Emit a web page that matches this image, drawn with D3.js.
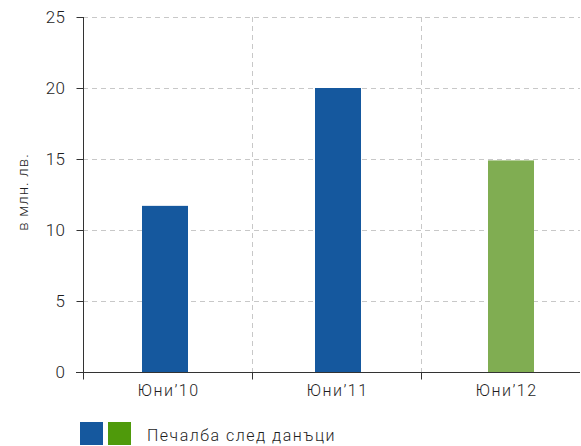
<!DOCTYPE html>
<html lang="bg">
<head>
<meta charset="utf-8">
<script src="https://cdn.jsdelivr.net/npm/d3@7"></script>
<style>
  html, body { margin: 0; padding: 0; background: #fff; }
  svg { display: block; font-family: Roboto, "Noto Sans", sans-serif; font-weight: 300; }
</style>
</head>
<body>
<svg id="chart" width="581" height="446" lang="bg"></svg>
<script>
// Net profit by period, in million BGN
const categories = ["Юни’10", "Юни’11", "Юни’12"];
const values = [11.7, 20, 14.9];
const barColors = ["#15589e", "#15589e", "#80ad52"];
const yTicks = [0, 5, 10, 15, 20, 25];
const legendColors = ["#15589e", "#4f9a0b"];
const legendLabel = "Печалба след данъци";
const yLabel = "в млн. лв.";

const svg = d3.select("#chart");
const plotLeft = 83, plotRight = 590, plotTop = 17, plotBottom = 372, axisEnd = 580;
const textColor = "#1e1e1e";

const x = d3.scaleBand().domain(categories).range([plotLeft, plotRight]).paddingInner(0).paddingOuter(0);
const xBar = d3.scalePoint().domain(categories).range([165, 511]);
const y = d3.scaleLinear().domain([0, 25]).range([plotBottom, plotTop]);

// horizontal dashed gridlines
svg.append("g").selectAll("line").data(yTicks.filter(d => d > 0)).join("line")
  .attr("x1", plotLeft).attr("x2", axisEnd)
  .attr("y1", d => y(d) + 0.5).attr("y2", d => y(d) + 0.5)
  .attr("stroke", "#c8c8c8").attr("stroke-width", 1).attr("stroke-dasharray", "5,4");

// vertical dashed gridlines at band boundaries
svg.append("g").selectAll("line").data(categories.slice(1)).join("line")
  .attr("x1", d => x(d) + 0.5).attr("x2", d => x(d) + 0.5)
  .attr("y1", plotTop).attr("y2", plotBottom)
  .attr("stroke", "#c8c8c8").attr("stroke-width", 1).attr("stroke-dasharray", "5,4");

// bars
const barW = 46;
svg.append("g").selectAll("rect").data(values).join("rect")
  .attr("x", (d, i) => xBar(categories[i]) - barW / 2)
  .attr("width", barW)
  .attr("y", d => y(d))
  .attr("height", d => plotBottom - y(d))
  .attr("fill", (d, i) => barColors[i]);

// y axis
const yAxis = svg.append("g").attr("transform", `translate(${plotLeft + 0.5},0)`)
  .call(d3.axisLeft(y).tickValues(yTicks).tickSize(7).tickPadding(11));
yAxis.select(".domain").attr("d", `M0,${plotTop}V${plotBottom}`).attr("stroke", "#333");
yAxis.selectAll(".tick line").attr("stroke", "#333");
yAxis.selectAll("text").attr("font-size", 17).attr("fill", textColor)
  .attr("font-family", "Roboto, sans-serif").attr("font-weight", 300).attr("letter-spacing", 0.5);

// x axis
const xAxis = svg.append("g").attr("transform", `translate(0,${plotBottom + 0.5})`);
xAxis.append("line").attr("x1", plotLeft - 7).attr("x2", axisEnd).attr("stroke", "#333");
const xBounds = categories.map(c => x(c));
xAxis.selectAll(".xt").data(xBounds).join("line")
  .attr("x1", d => d + 0.5).attr("x2", d => d + 0.5).attr("y1", 0).attr("y2", 7)
  .attr("stroke", "#333");
xAxis.selectAll("text").data(categories).join("text")
  .attr("x", d => x(d) + x.bandwidth() / 2 + 1)
  .attr("y", 23)
  .attr("text-anchor", "middle")
  .attr("font-size", 16).attr("fill", textColor).attr("letter-spacing", 1.5)
  .text(d => d);

// y axis title
svg.append("text")
  .attr("transform", `translate(28,192) rotate(-90)`)
  .attr("text-anchor", "middle")
  .attr("font-size", 15).attr("fill", textColor).attr("letter-spacing", 1)
  .text(yLabel);

// legend
const lg = svg.append("g").attr("transform", "translate(80,422)");
lg.selectAll("rect").data(legendColors).join("rect")
  .attr("x", (d, i) => i * 28).attr("y", 0).attr("width", 23).attr("height", 23)
  .attr("fill", d => d);
lg.append("text").attr("x", 67).attr("y", 19)
  .attr("font-size", 16).attr("fill", textColor).attr("letter-spacing", 1.5).text(legendLabel);
</script>
</body>
</html>
